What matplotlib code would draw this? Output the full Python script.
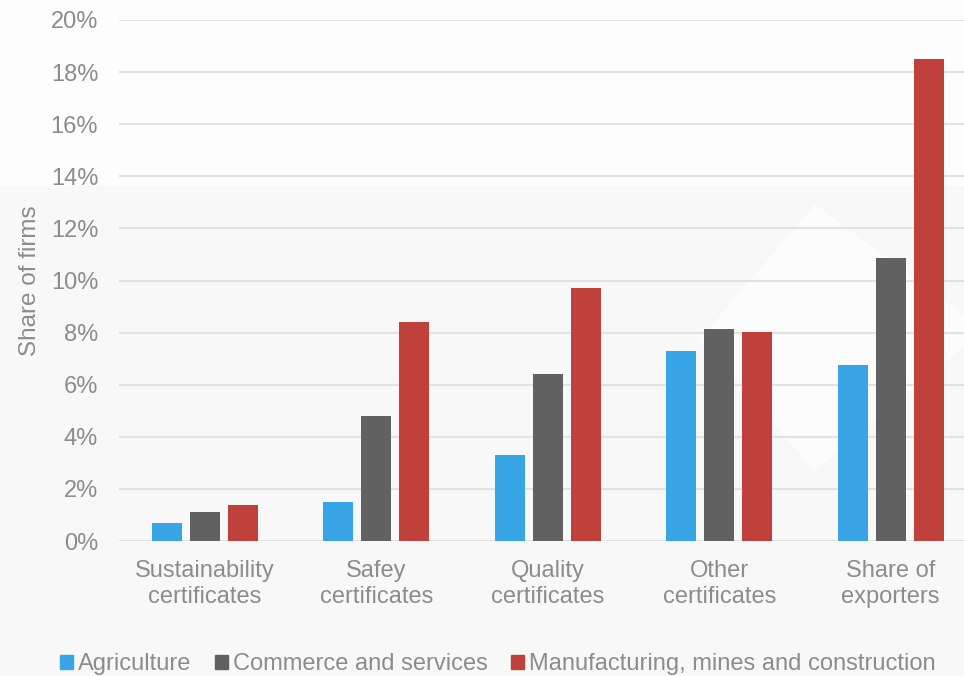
import numpy as np
import matplotlib.pyplot as plt
import matplotlib.patches as mpatches
from matplotlib.ticker import FuncFormatter

plt.rcParams["font.family"] = ["Liberation Sans", "DejaVu Sans"]

# data (share of firms, %)
categories = ["Sustainability\ncertificates", "Safey\ncertificates",
              "Quality\ncertificates", "Other\ncertificates", "Share of\nexporters"]
series_names = ["Agriculture", "Commerce and services",
                "Manufacturing, mines and construction"]
agriculture = [0.69, 1.51, 3.30, 7.29, 6.74]
commerce = [1.11, 4.80, 6.41, 8.13, 10.85]
manufacturing = [1.37, 8.40, 9.71, 8.02, 18.50]
y_ticks = [0, 2, 4, 6, 8, 10, 12, 14, 16, 18, 20]

colors = ["#38A6E6", "#616161", "#C0413B"]
text_col = "#8c8c8c"

fig = plt.figure(figsize=(9.64, 6.76), dpi=100, facecolor="#f8f8f8")

# subtle background: white upper band and a pale diamond
fig.patches.append(mpatches.Rectangle((0, 1 - 185 / 676), 1, 185 / 676,
                                      transform=fig.transFigure, color="#fdfdfd", zorder=-5))
fig.patches.append(mpatches.Polygon([(815 / 964, 1 - 205 / 676), (1.02, 1 - 330 / 676),
                                     (815 / 964, 1 - 470 / 676), (700 / 964, 1 - 340 / 676)],
                                    closed=True, transform=fig.transFigure,
                                    color="#fcfcfc", zorder=-4))

ax = fig.add_axes([119 / 964, 1 - 541 / 676, 857.5 / 964, 521 / 676])
ax.set_facecolor("none")

x = np.arange(len(categories))
step = 0.2216
width = 0.175
for i, (name, vals) in enumerate(zip(series_names, [agriculture, commerce, manufacturing])):
    ax.bar(x + (i - 1) * step, vals, width=width, color=colors[i], label=name, zorder=3)

ax.set_xlim(-0.5, len(categories) - 0.5)
ax.set_ylim(0, 20)
ax.set_yticks(y_ticks)
ax.yaxis.set_major_formatter(FuncFormatter(lambda v, p: f"{v:.0f}%"))
ax.set_xticks(x)
ax.set_xticklabels(categories, linespacing=1.2)
ax.grid(axis="y", color="#e2e2e2", linewidth=1.5, zorder=0)
for s in ["top", "right", "left", "bottom"]:
    ax.spines[s].set_visible(False)
ax.tick_params(axis="both", length=0, labelsize=17, labelcolor=text_col)
ax.tick_params(axis="y", pad=15)
ax.tick_params(axis="x", pad=14)

fig.text(30 / 964, 1 - 281 / 676, "Share of firms", rotation=90, fontsize=17.5,
         color=text_col, ha="center", va="center")

handles = [mpatches.Patch(color=c, label=n) for c, n in zip(colors, series_names)]
leg = fig.legend(handles=handles, loc="center", bbox_to_anchor=(498 / 964, 1 - 664 / 676),
                 ncol=3, frameon=False, fontsize=17, handlelength=0.55, handleheight=0.55,
                 handletextpad=0.2, columnspacing=1.0, borderaxespad=0, borderpad=0)
for t in leg.get_texts():
    t.set_color(text_col)

fig.savefig("out.png", dpi=100, facecolor=fig.get_facecolor())
